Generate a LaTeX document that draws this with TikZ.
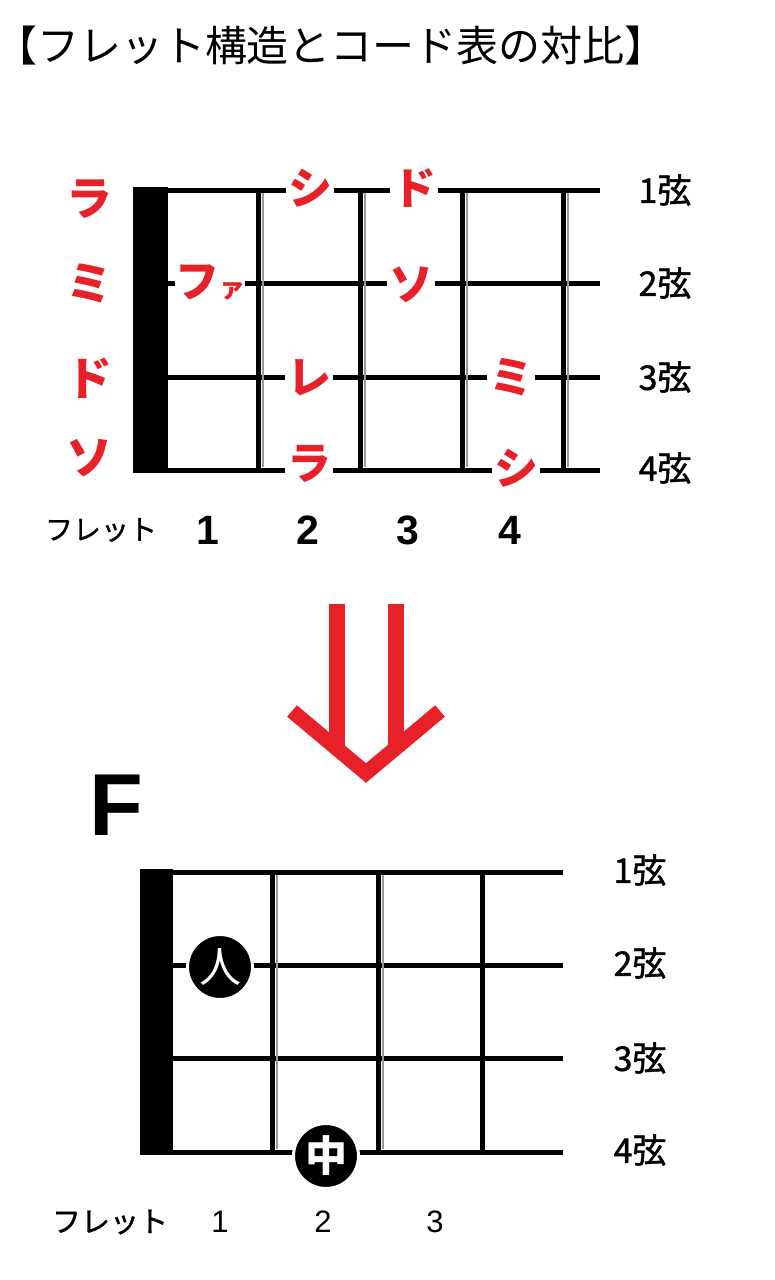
\documentclass[tikz,border=0pt]{standalone}
\usepackage{fontspec}
\setmainfont{Liberation Sans}
\newfontfamily\jp{Noto Sans CJK JP}
\newfontfamily\jpm{Noto Sans CJK JP}[FakeBold=1.2]
\definecolor{nred}{RGB}{232,32,40}
\begin{document}
\begin{tikzpicture}[x=1pt,y=-1pt,
  strline/.style={line width=5pt},
  fretline/.style={line width=5pt},
  thinfret/.style={line width=1.3pt,black!40},
  note/.style={font=\jp\bfseries\fontsize{44}{44}\selectfont,text=nred,fill=white,inner sep=0pt,minimum width=48pt,minimum height=36pt},
  openlab/.style={font=\jp\bfseries\fontsize{46}{46}\selectfont,text=nred,inner sep=0pt},
  strlab/.style={font=\jpm\fontsize{34}{34}\selectfont,inner sep=0pt},
  fretnumA/.style={font=\bfseries\fontsize{41}{41}\selectfont,inner sep=0pt},
  fretnumB/.style={font=\fontsize{31}{31}\selectfont,inner sep=0pt},
  fretword/.style={font=\jpm\fontsize{28}{28}\selectfont,inner sep=0pt},
  finger/.style={circle,fill=black,draw=white,line width=3pt,minimum size=65pt,inner sep=0pt,text=white,font=\jp\fontsize{42}{42}\selectfont},
  arrowred/.style={draw=nred,line width=16pt}
]
\useasboundingbox (0,0) rectangle (775,1280);
% title
\node[font=\jp\fontsize{42}{42}\selectfont,inner sep=0pt] (title) at (331,46) {【フレット構造とコード表の対比】};

% ===== top fretboard =====
\fill (133,187) rectangle (168,473);
\foreach \y in {190,283,377,470} \draw[strline] (168,\y) -- (600,\y);
\foreach \x in {258,360,462,563} {
  \draw[fretline] (\x,190) -- (\x,470);
  \draw[thinfret] (\x+5,193) -- (\x+5,467);
}
% open string notes
\node[openlab] (o1) at (89,199) {ラ};
\node[openlab] (o2) at (89,283) {ミ};
\node[openlab] (o3) at (89,378) {ド};
\node[openlab] (o4) at (89,458) {ソ};
% fretted notes
\node[note] (s1f2) at (310,188) {シ};
\node[note] (s1f3) at (414,188) {ド};
\node[note,minimum width=66pt] (s2f1) at (210,283) {フ{\fontsize{26}{26}\selectfont ァ}};
\node[note] (s2f3) at (411,285) {ソ};
\node[note] (s3f2) at (309,378) {レ};
\node[note] (s3f4) at (511,377) {ミ};
\node[note] (s4f2) at (309,464) {ラ};
\node[note] (s4f4) at (516,468) {シ};
% string labels
\node[strlab] (t1) at (665,190) {1弦};
\node[strlab] (t2) at (665,283) {2弦};
\node[strlab] (t3) at (665,377) {3弦};
\node[strlab] (t4) at (665,468) {4弦};
% fret numbers
\node[fretword] (tfw) at (101,530) {フレット};
\node[fretnumA] (tf1) at (208,530) {1};
\node[fretnumA] (tf2) at (308,530) {2};
\node[fretnumA] (tf3) at (408,530) {3};
\node[fretnumA] (tf4) at (510,530) {4};

% ===== arrow =====
\coordinate (al) at (292,711);
\coordinate (ar) at (440,711);
\coordinate (ap) at (366,773);
\draw[arrowred] (337,604) -- (337,748);
\draw[arrowred] (396,604) -- (396,748);
\draw[arrowred,line width=15pt,miter limit=10] (al) -- (ap) -- (ar);

% ===== bottom chord chart =====
\node[font=\bfseries\fontsize{88}{88}\selectfont,inner sep=0pt] (chord) at (116,805) {F};
\fill (140,869) rectangle (173,1155);
\foreach \y in {872,965,1058,1152} \draw[strline] (173,\y) -- (563,\y);
\foreach \x in {272,378,482} \draw[fretline] (\x,872) -- (\x,1152);
\foreach \x in {276,382} \draw[thinfret] (\x+1,875) -- (\x+1,1149);
\node[finger] (hito) at (220,967) {人};
\node[finger,font=\jp\bfseries\fontsize{42}{42}\selectfont] (naka) at (326,1156) {中};
\node[strlab] (b1) at (640,870) {1弦};
\node[strlab] (b2) at (640,963) {2弦};
\node[strlab] (b3) at (640,1058) {3弦};
\node[strlab] (b4) at (640,1150) {4弦};
\node[fretword,font=\jpm\fontsize{29}{29}\selectfont] (bfw) at (110,1222) {フレット};
\node[fretnumB] (bf1) at (220,1222) {1};
\node[fretnumB] (bf2) at (323,1222) {2};
\node[fretnumB] (bf3) at (435,1222) {3};
\end{tikzpicture}
\end{document}
